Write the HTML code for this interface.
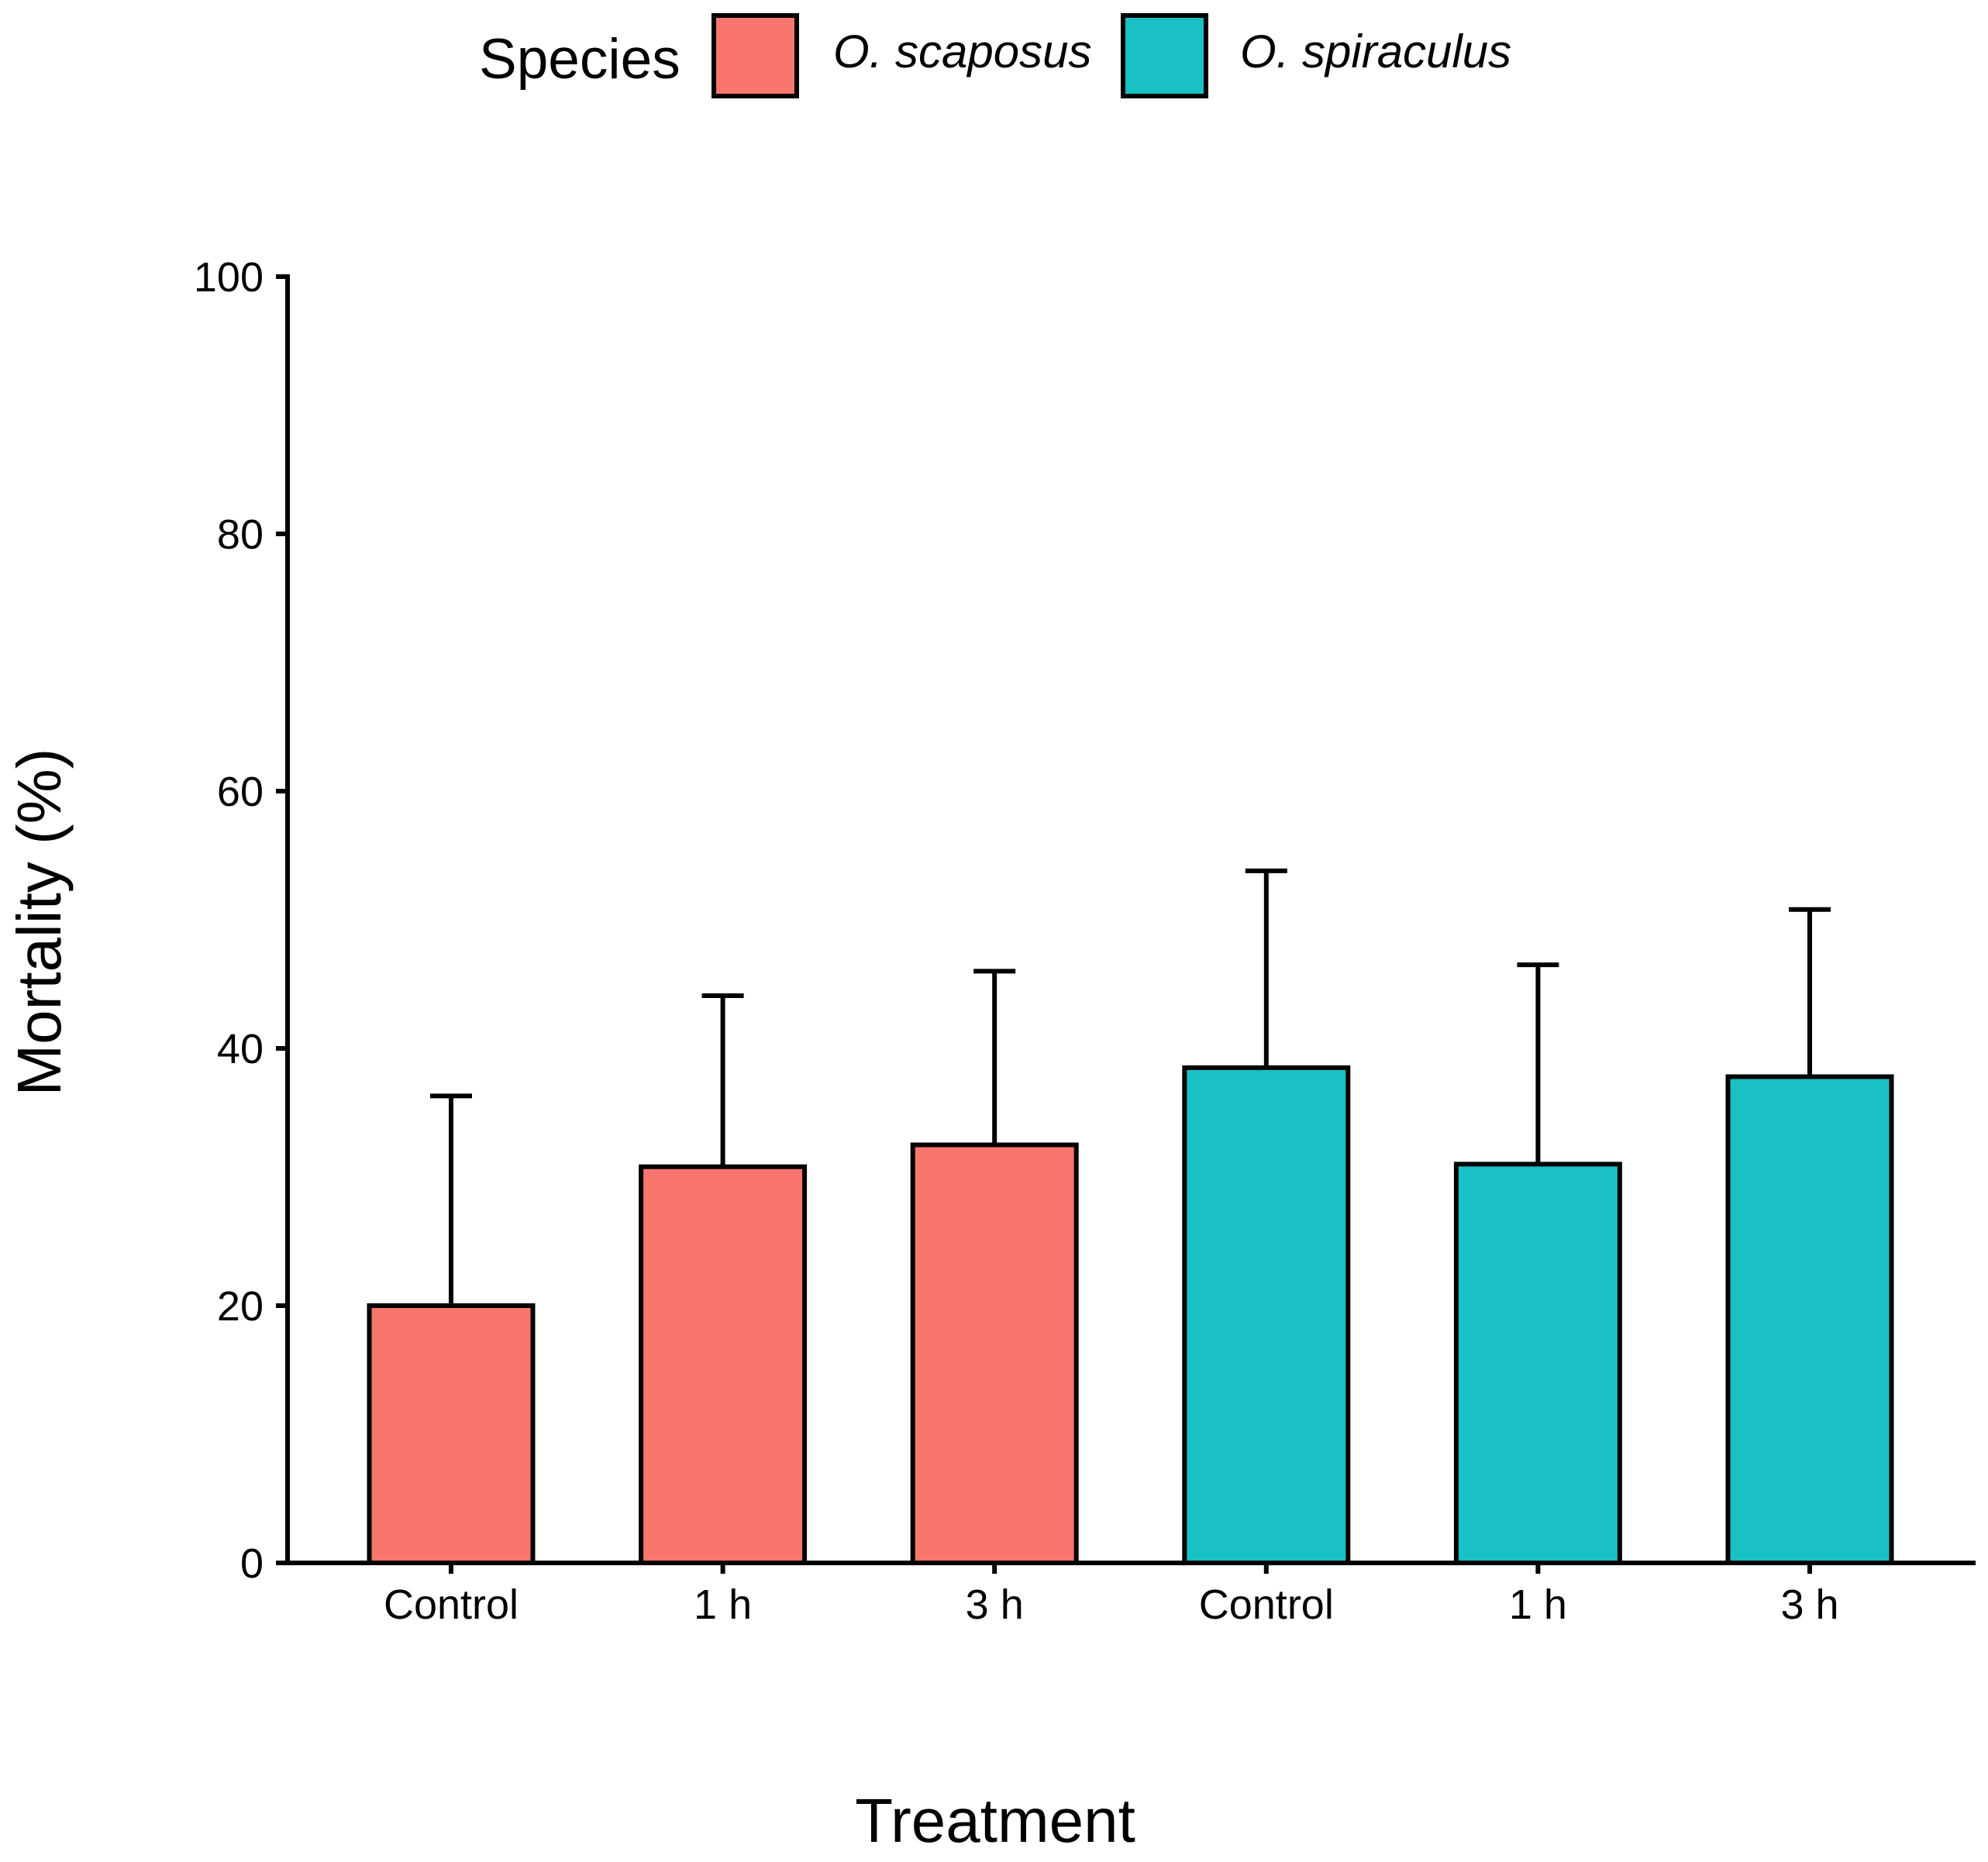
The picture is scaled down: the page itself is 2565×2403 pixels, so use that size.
<!DOCTYPE html>
<html><head><meta charset="utf-8"><style>
html,body{margin:0;padding:0;background:#fff;}
svg{display:block;font-family:"Liberation Sans",Arial,sans-serif;}
</style></head><body>
<svg id="chart" width="2565" height="2403" viewBox="0 0 2565 2403">
<g>
<text x="618" y="101" font-size="73" fill="#000">Species</text>
<rect x="921" y="20" width="107" height="104" fill="#F8766D" stroke="#000" stroke-width="6"/>
<text x="1075" y="87" font-size="60" font-style="italic" fill="#000">O. scaposus</text>
<rect x="1449" y="20" width="107" height="104" fill="#19C1C4" stroke="#000" stroke-width="6"/>
<text x="1600" y="87" font-size="60" font-style="italic" fill="#000">O. spiraculus</text>
</g>
<g id="plot"></g>
<text x="57" y="1190" font-size="80" text-anchor="middle" transform="rotate(-90 57 1190)" dominant-baseline="middle">Mortality (%)</text>
<text x="1284" y="2377" font-size="80" text-anchor="middle">Treatment</text>
</svg>
<script>
const categories = ["Control","1 h","3 h","Control","1 h","3 h"];
const species = ["scaposus","scaposus","scaposus","spiraculus","spiraculus","spiraculus"];
const means = [20, 30.8, 32.5, 38.5, 31, 37.8];
const errorTops = [36.3, 44.1, 46, 53.8, 46.5, 50.8];
const yTicks = [0, 20, 40, 60, 80, 100];
const colors = {scaposus:"#F8766D", spiraculus:"#19C1C4"};

const NS = "http://www.w3.org/2000/svg";
const plot = document.getElementById('plot');
const x0 = 371, xEnd = 2549, y0 = 2017, y100 = 357;
const firstCenter = 582, step = 350.6, barW = 211, capW = 54;
function yScale(v){ return y0 - (v/100)*(y0 - y100); }
function xScale(i){ return firstCenter + i*step; }
function mk(tag, attrs){ const e = document.createElementNS(NS, tag); for (const k in attrs) e.setAttribute(k, attrs[k]); plot.appendChild(e); return e; }

errorTops.forEach((t,i)=>{
  const cx = xScale(i);
  const l = mk('line',{x1:cx,x2:cx,y1:yScale(means[i]),y2:yScale(t),stroke:'#000','stroke-width':6});
  
  
  const c = mk('line',{x1:cx-capW/2,x2:cx+capW/2,y1:yScale(t),y2:yScale(t),stroke:'#000','stroke-width':6});
  
  
});
means.forEach((v,i)=>{
  const cx = xScale(i);
  const r = mk('rect',{x:cx-barW/2,y:yScale(v),width:barW,height:y0-yScale(v),fill:colors[species[i]],stroke:'#000','stroke-width':6});
  
  
});
const ya = mk('line',{x1:x0,x2:x0,y1:y100-3,y2:y0+3,stroke:'#000','stroke-width':6});


const xa = mk('line',{x1:x0-3,x2:xEnd,y1:y0,y2:y0,stroke:'#000','stroke-width':6});


yTicks.forEach(t=>{
  const y = yScale(t);
  const tk = mk('line',{x1:x0-15,x2:x0,y1:y,y2:y,stroke:'#000','stroke-width':6});
  
  
  const tx = mk('text',{x:x0-31,y:y+19,'font-size':54,'text-anchor':'end',fill:'#000'});
  tx.textContent = t;
  
  
});
categories.forEach((c,i)=>{
  const cx = xScale(i);
  const tk = mk('line',{x1:cx,x2:cx,y1:y0,y2:y0+14,stroke:'#000','stroke-width':6});
  
  
  const tx = mk('text',{x:cx,y:y0+72,'font-size':54,'text-anchor':'middle',fill:'#000'});
  tx.textContent = c;
  
  
});
</script>
</body></html>
